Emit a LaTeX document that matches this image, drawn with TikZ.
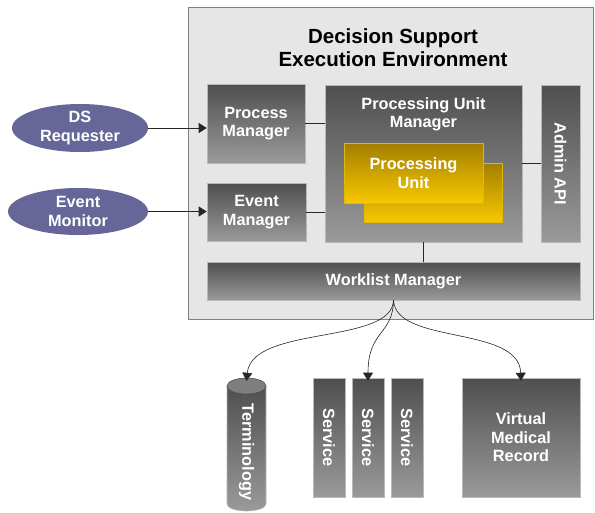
\documentclass[tikz,border=0pt]{standalone}
\usepackage{fontspec}
\setmainfont{Liberation Sans}
\usetikzlibrary{arrows.meta,shapes.geometric}
\definecolor{boxtop}{HTML}{4F4F4F}
\definecolor{boxbot}{HTML}{9A9A9A}
\definecolor{boxline}{HTML}{B8B8B8}
\definecolor{envfill}{HTML}{E6E6E6}
\definecolor{envline}{HTML}{808080}
\definecolor{actor}{HTML}{666699}
\definecolor{goldtop}{HTML}{A37E00}
\definecolor{goldbot}{HTML}{F6C800}
\definecolor{goldline}{HTML}{E2B800}
\definecolor{capfill}{HTML}{7E7E7E}
\tikzset{
  lbl/.style={font=\bfseries\fontsize{16.3}{18.5}\selectfont, text=white, align=center},
  graybox/.style={lbl, draw=boxline, line width=0.6pt, top color=boxtop, bottom color=boxbot,
    inner sep=0pt, minimum width=#1},
  goldbox/.style={lbl, draw=goldline, line width=0.6pt, top color=goldtop, bottom color=goldbot,
    inner sep=0pt},
  actorell/.style={lbl, ellipse, fill=actor, inner sep=0pt},
  wire/.style={draw=black!85, line width=0.6pt},
  flow/.style={wire, -{Triangle[length=8pt,width=10pt]}},
  vtext/.style={lbl, rotate=-90}
}
\begin{document}
\begin{tikzpicture}[x=1pt,y=-1pt]
\useasboundingbox (0,0) rectangle (595,512);

% execution environment
\node[draw=envline, fill=envfill, line width=0.8pt, minimum width=405pt, minimum height=312pt,
  inner sep=0pt] (env) at (390.5,163) {};
\node[font=\bfseries\fontsize{20.5}{23}\selectfont, align=center] (title) at (393,48)
  {Decision Support\\Execution Environment};

% managers inside the environment
\node[graybox=98pt, minimum height=79pt] (pm) at (256,123.5) {Process\\Manager};
\node[graybox=99pt, minimum height=58pt] (em) at (256.5,212) {Event\\Manager};
\node[graybox=197pt, minimum height=157pt] (pum) at (423.5,163.5) {};
\node[lbl, anchor=north] (pumlbl) at (423.5,94) {Processing Unit\\Manager};
\node[graybox=39pt, minimum height=157pt] (admin) at (560.5,163.5) {};
\node[vtext] (adminlbl) at (560.5,163.5) {Admin API};
\node[goldbox, minimum width=138pt, minimum height=59pt] (pu2) at (433,192.5) {};
\node[goldbox, minimum width=139pt, minimum height=60pt] (pu1) at (413.5,173) {Processing\\Unit};
\node[graybox=373pt, minimum height=38pt] (wl) at (393.5,281) {Worklist Manager};

% external actors
\node[actorell, minimum width=136pt, minimum height=48pt] (ds) at (80,128) {DS\\Requester};
\node[actorell, minimum width=140pt, minimum height=47pt] (evm) at (78,211.5) {Event\\Monitor};

% terminology store (cylinder)
\node[minimum width=39pt, minimum height=134pt, inner sep=0pt] (term) at (246.5,445) {};
\shade[top color=boxtop, bottom color=boxbot, draw=boxline, line width=0.6pt]
  (227,386) -- (227,504) arc[start angle=180, end angle=360, x radius=19.5pt, y radius=7pt]
  -- (266,386) -- cycle;
\draw[fill=capfill, draw=boxtop, line width=0.6pt] (246.5,386) ellipse [x radius=19.5pt, y radius=8pt];
\node[vtext] (termlbl) at (246.5,452) {Terminology};

% services and medical record
\node[graybox=32pt, minimum height=119pt] (s1) at (329,437.5) {};
\node[vtext] at (s1) {Service};
\node[graybox=32pt, minimum height=119pt] (s2) at (368,437.5) {};
\node[vtext] at (s2) {Service};
\node[graybox=32pt, minimum height=119pt] (s3) at (407,437.5) {};
\node[vtext] at (s3) {Service};
\node[graybox=118pt, minimum height=119pt] (vmr) at (521,437.5) {Virtual\\Medical\\Record};

% internal wiring
\draw[wire] (pm.east) -- (pm.east -| pum.west);
\draw[wire] (em.east) -- (em.east -| pum.west);
\draw[wire] (pum.east) -- (admin.west);
\draw[wire] (pum.south) -- (pum.south |- wl.north);

% inputs
\draw[flow] (ds.east) -- (ds.east -| pm.west);
\draw[flow] (evm.east) -- (evm.east -| em.west);

% outgoing calls from the worklist manager
\draw[flow] (wl.south) .. controls (392,345) and (252,325) .. ([yshift=-3pt]term.north);
\draw[flow] (wl.south) .. controls (393,335) and (368,330) .. ([yshift=-3pt]s2.north);
\draw[flow] (wl.south) .. controls (396,345) and (519,325) .. ([yshift=-3pt]vmr.north);
\end{tikzpicture}
\end{document}
